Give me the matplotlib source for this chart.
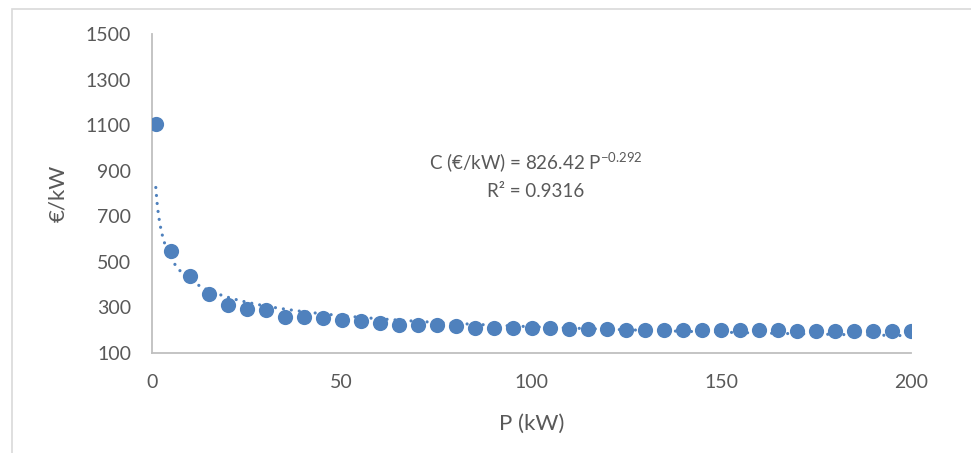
import numpy as np
import matplotlib.pyplot as plt
from matplotlib.patches import Rectangle

# ── Dados ─────────────────────────────────────────────────────────────────────
P_kW = [1, 5, 10, 15, 20, 25, 30, 35, 40, 45, 50, 55, 60, 65, 70, 75, 80,
        85, 90, 95, 100, 105, 110, 115, 120, 125, 130, 135, 140, 145, 150,
        155, 160, 165, 170, 175, 180, 185, 190, 195, 200]
C_eur_kW = [1107, 549, 437, 361, 310, 291, 287, 259, 257, 252, 247, 241,
            233, 222, 222, 222, 219, 211, 211, 208, 208, 208, 205, 205, 204,
            201, 201, 200, 200, 200, 199, 199, 199, 199, 198, 198, 198, 198,
            198, 198, 198]

# linha de tendência (potência) tal como indicada no gráfico
FIT_A = 826.42
FIT_B = -0.292
R2 = 0.9316

x_ticks = [0, 50, 100, 150, 200]
y_ticks = [100, 300, 500, 700, 900, 1100, 1300, 1500]

AZUL = '#4F81BD'
CINZA_TXT = '#595959'
CINZA_EIXO = '#BFBFBF'

plt.rcParams['font.family'] = ['Lato', 'DejaVu Sans']
plt.rcParams['mathtext.fontset'] = 'custom'
plt.rcParams['mathtext.rm'] = 'Lato'

fig = plt.figure(figsize=(9.71, 4.53), dpi=100)
ax = fig.add_axes([152 / 971, 1 - 353 / 453, 759 / 971, 319 / 453])

# moldura da área do gráfico
fig.patches.append(Rectangle((12 / 971, -0.1), 1.2, 1.1 - 9.5 / 453,
                             transform=fig.transFigure, fill=False,
                             edgecolor='#D9D9D9', lw=1.2))

ax.scatter(P_kW, C_eur_kW, s=120, color=AZUL, zorder=3, linewidths=0)

p_fit = np.linspace(P_kW[0], P_kW[-1], 600)
ax.plot(p_fit, FIT_A * p_fit ** FIT_B, color=AZUL, lw=2.3,
        linestyle=(0, (0.01, 2.5)), dash_capstyle='round', zorder=4)

ax.set_xlim(0, 200)
ax.set_ylim(100, 1500)
ax.set_xticks(x_ticks)
ax.set_yticks(y_ticks)
ax.tick_params(length=0, pad=15, labelsize=14, labelcolor=CINZA_TXT)
for lado in ['top', 'right']:
    ax.spines[lado].set_visible(False)
for lado in ['left', 'bottom']:
    ax.spines[lado].set_color(CINZA_EIXO)
    ax.spines[lado].set_linewidth(1.3)

ax.set_xlabel('P (kW)', fontsize=16, color=CINZA_TXT)
ax.set_ylabel('€/kW', fontsize=16, color=CINZA_TXT)
ax.xaxis.set_label_coords(0.5, -0.192)
ax.yaxis.set_label_coords(-0.111, 0.5)

ax.text(101, 937, f'C (€/kW) = {FIT_A} P$^{{\\mathregular{{−{abs(FIT_B)}}}}}$',
        ha='center', va='center', fontsize=13.5, color=CINZA_TXT)
ax.text(101, 807, f'R² = {R2}', ha='center', va='center',
        fontsize=13.5, color=CINZA_TXT)

plt.savefig('out.png', dpi=100)
